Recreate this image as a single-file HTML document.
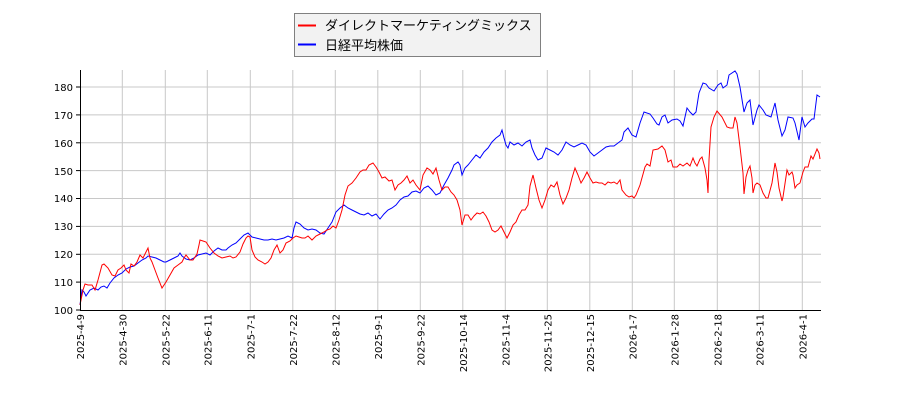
<!DOCTYPE html>
<html><head><meta charset="utf-8"><style>
body{margin:0;background:#fff;}
svg{display:block;font-family:"DejaVu Sans","Noto Sans CJK JP",sans-serif;}
</style></head><body>
<svg width="900" height="400" viewBox="0 0 900 400" xmlns="http://www.w3.org/2000/svg">
<g stroke="#c8c8c8" stroke-width="1">
<line x1="80" x2="821" y1="282.1" y2="282.1"/><line x1="80" x2="821" y1="254.3" y2="254.3"/>
<line x1="80" x2="821" y1="226.4" y2="226.4"/><line x1="80" x2="821" y1="198.5" y2="198.5"/>
<line x1="80" x2="821" y1="170.6" y2="170.6"/><line x1="80" x2="821" y1="142.8" y2="142.8"/>
<line x1="80" x2="821" y1="114.9" y2="114.9"/><line x1="80" x2="821" y1="87" y2="87"/>
<line y1="70" y2="310" x1="122.3" x2="122.3"/><line y1="70" y2="310" x1="165.3" x2="165.3"/>
<line y1="70" y2="310" x1="207.3" x2="207.3"/><line y1="70" y2="310" x1="250.3" x2="250.3"/>
<line y1="70" y2="310" x1="292.8" x2="292.8"/><line y1="70" y2="310" x1="335.3" x2="335.3"/>
<line y1="70" y2="310" x1="377.8" x2="377.8"/><line y1="70" y2="310" x1="420.3" x2="420.3"/>
<line y1="70" y2="310" x1="462.8" x2="462.8"/><line y1="70" y2="310" x1="505.3" x2="505.3"/>
<line y1="70" y2="310" x1="547.3" x2="547.3"/><line y1="70" y2="310" x1="589.8" x2="589.8"/>
<line y1="70" y2="310" x1="632.3" x2="632.3"/><line y1="70" y2="310" x1="674.3" x2="674.3"/>
<line y1="70" y2="310" x1="717.3" x2="717.3"/><line y1="70" y2="310" x1="759.3" x2="759.3"/>
<line y1="70" y2="310" x1="802.3" x2="802.3"/>
</g>
<polyline fill="none" stroke="#0000ff" stroke-width="1" points="80,305 82,290 84,292 86,296 90,290 94,288 98,290 101,287 104,286 107,288 110,283 114,278 118,275 122,273 126,269 130,267 134,266 138,263 142,260 146,258 148,256 152,257 156,258 160,260 164,262 166,262 170,260 174,258 178,256 180,253 182,256 186,259 190,260 194,258 198,255 202,254 206,253 210,255 214,251 218,248 222,250 226,250 228,248 232,245 236,243 240,239 244,235 248,233 252,237 256,238 260,239 264,240 268,240 272,239 276,240 280,239 284,238 288,236 292,238 294,228 296,222 300,224 304,228 308,230 312,229 316,230 320,233 324,234 328,228 332,222 336,212 340,208 344,205 348,208 352,210 356,212 360,214 364,215 368,213 372,216 376,214 380,219 384,214 388,210 392,208 396,205 400,200 404,197 408,196 412,192 416,191 420,193 424,188 428,186 432,190 436,195 440,193 444,185 448,178 452,170 454,165 458,162 460,165 462,175 465,168 468,165 472,160 476,155 480,158 484,152 488,148 492,142 496,138 500,135 502,130 504,138 506,145 508,148 510,142 514,145 518,143 522,146 526,142 530,140 532,148 535,155 538,160 542,158 546,148 550,150 554,152 558,155 562,150 566,142 570,145 574,147 578,145 582,143 586,145 590,152 594,156 598,153 602,150 606,147 610,146 614,146 618,143 622,140 624,132 628,128 632,135 636,137 640,123 644,112 650,114 653,118 657,124 659,125 662,117 665,115 668,123 672,120 677,119 680,121 683,126 687,108 690,112 693,115 696,112 699,93 703,83 706,84 709,88 714,91 718,85 721,83 723,88 727,85 729,75 735,71 737,74 740,87 744,112 747,103 750,100 753,125 757,110 759,105 763,110 766,115 771,117 775,103 778,120 782,136 785,130 788,117 793,118 795,123 799,140 802,117 805,127 808,123 812,119 814,119 817,95 820,97"/>
<polyline fill="none" stroke="#ff0000" stroke-width="1" points="80,305 83,290 85,284 88,285 92,285 95,290 98,280 102,265 104,264 108,268 112,275 115,276 118,270 121,268 124,265 126,270 129,273 131,264 134,266 137,262 140,255 143,258 146,252 148,248 150,258 152,262 155,270 158,278 162,288 166,282 170,275 174,268 178,265 182,262 184,258 186,255 190,260 193,260 197,254 199,245 200,240 203,241 206,242 210,248 214,253 218,256 222,258 226,257 230,256 233,258 236,257 240,252 243,244 246,238 248,236 250,237 252,250 255,257 258,260 262,262 265,264 268,262 271,258 274,250 277,245 280,253 283,250 286,243 290,241 293,238 296,236 299,237 302,238 305,238 308,236 312,240 316,236 320,234 324,232 327,230 330,229 333,226 336,228 339,220 342,210 345,195 348,186 352,183 356,178 360,172 363,170 366,170 369,165 373,163 376,167 379,172 382,178 385,177 389,181 392,180 395,190 398,185 401,183 404,180 407,176 410,183 413,180 416,185 420,190 423,175 427,168 430,170 433,174 436,168 439,180 442,190 445,187 448,187 451,192 454,195 457,200 460,210 462,225 465,215 468,215 471,220 474,216 477,213 480,214 483,212 486,216 489,222 492,230 495,232 498,230 501,226 504,232 507,238 510,232 513,225 516,222 519,215 522,210 525,210 528,205 530,186 533,175 536,188 539,200 542,208 545,200 548,190 551,185 554,187 557,182 560,195 563,204 566,198 569,190 572,178 575,168 578,175 581,183 584,178 587,172 590,178 593,183 596,182 599,183 602,183 605,185 608,182 611,183 614,182 617,184 620,180 622,190 626,195 629,197 632,196 634,198 636,195 640,185 645,167 647,164 650,166 653,150 658,149 662,146 665,150 668,162 671,160 673,167 677,167 680,164 683,166 687,163 690,166 693,158 695,163 697,166 700,159 702,157 705,168 707,180 708,193 709,160 711,127 714,117 717,111 722,117 727,127 730,128 733,128 735,117 737,123 740,147 743,173 744,194 746,177 748,170 750,166 752,178 753,193 755,185 757,183 760,185 763,193 766,198 768,198 772,183 775,163 777,172 779,188 782,201 783,197 787,170 789,175 792,172 793,175 795,188 797,185 800,183 803,172 805,167 808,167 811,156 813,159 817,149 819,153 820,159"/>
<path d="M80.5,70 V310.5 H821" fill="none" stroke="#000" stroke-width="1"/>
<g stroke="#000"><line x1="76" x2="80" y1="310" y2="310"/><line x1="76" x2="80" y1="282.1" y2="282.1"/><line x1="76" x2="80" y1="254.3" y2="254.3"/><line x1="76" x2="80" y1="226.4" y2="226.4"/><line x1="76" x2="80" y1="198.5" y2="198.5"/><line x1="76" x2="80" y1="170.6" y2="170.6"/><line x1="76" x2="80" y1="142.8" y2="142.8"/><line x1="76" x2="80" y1="114.9" y2="114.9"/><line x1="76" x2="80" y1="87" y2="87"/></g>
<g font-size="10" text-anchor="end" fill="#000">
<text x="73" y="314">100</text><text x="73" y="286">110</text><text x="73" y="258">120</text><text x="73" y="230">130</text><text x="73" y="202">140</text><text x="73" y="175">150</text><text x="73" y="147">160</text><text x="73" y="119">170</text><text x="73" y="91">180</text>
</g>
<g font-size="10" text-anchor="end" fill="#000">
<text transform="translate(84,314) rotate(-90)">2025-4-9</text>
<text transform="translate(126.3,314) rotate(-90)">2025-4-30</text>
<text transform="translate(169.3,314) rotate(-90)">2025-5-22</text>
<text transform="translate(211.3,314) rotate(-90)">2025-6-11</text>
<text transform="translate(254.3,314) rotate(-90)">2025-7-1</text>
<text transform="translate(296.8,314) rotate(-90)">2025-7-22</text>
<text transform="translate(339.3,314) rotate(-90)">2025-8-12</text>
<text transform="translate(381.8,314) rotate(-90)">2025-9-1</text>
<text transform="translate(424.3,314) rotate(-90)">2025-9-22</text>
<text transform="translate(466.8,314) rotate(-90)">2025-10-14</text>
<text transform="translate(509.3,314) rotate(-90)">2025-11-4</text>
<text transform="translate(551.3,314) rotate(-90)">2025-11-25</text>
<text transform="translate(593.8,314) rotate(-90)">2025-12-15</text>
<text transform="translate(636.3,314) rotate(-90)">2026-1-7</text>
<text transform="translate(678.3,314) rotate(-90)">2026-1-28</text>
<text transform="translate(721.3,314) rotate(-90)">2026-2-18</text>
<text transform="translate(763.3,314) rotate(-90)">2026-3-11</text>
<text transform="translate(806.3,314) rotate(-90)">2026-4-1</text>
</g>
<rect x="294.5" y="13.5" width="246" height="43" fill="#f2f2f2" stroke="#808080"/>
<line x1="298" x2="316" y1="25.5" y2="25.5" stroke="#ff0000" stroke-width="2"/>
<line x1="298" x2="316" y1="44.5" y2="44.5" stroke="#0000ff" stroke-width="2"/>
<text x="325" y="30" font-size="13" fill="#000" font-family="Liberation Sans, Noto Sans CJK JP, sans-serif">ダイレクトマーケティングミックス</text>
<text x="325" y="50" font-size="13" fill="#000" font-family="Liberation Sans, Noto Sans CJK JP, sans-serif">日経平均株価</text>
</svg>
</body></html>
